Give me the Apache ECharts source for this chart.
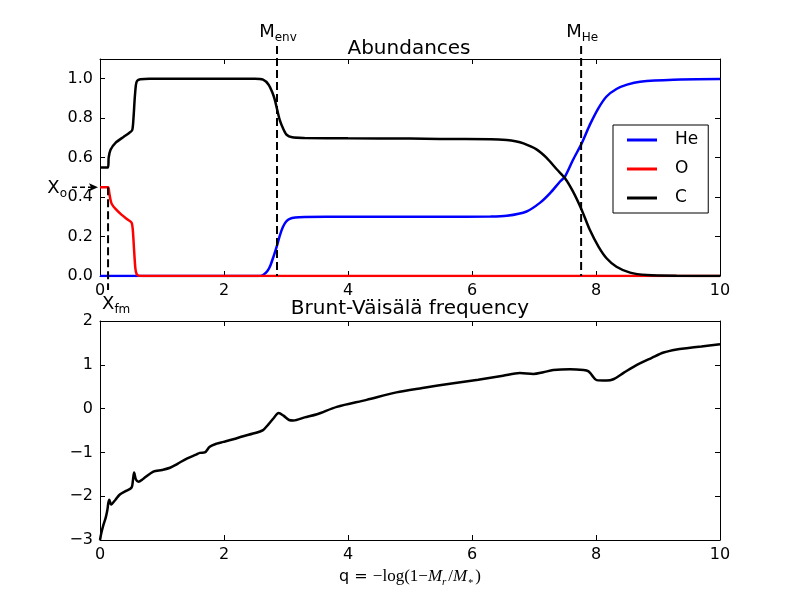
<!DOCTYPE html>
<html><head><meta charset="utf-8">
<script src="https://cdn.jsdelivr.net/npm/echarts@6/dist/echarts.min.js"></script>
<style>html,body{margin:0;padding:0;background:#fff}#c{width:800px;height:600px}</style>
</head><body><div id="c"></div>
<script>
// ---- data ----
const xTicks = [0, 2, 4, 6, 8, 10];
const topYTicks = [0, 0.2, 0.4, 0.6, 0.8, 1.0];
const botYTicks = [-3, -2, -1, 0, 1, 2];

const heX = [0, 2.55, 2.63, 2.7, 2.75, 2.8, 2.85, 2.9, 2.95, 3.0, 3.06, 3.15, 3.3, 4, 5, 5.48, 6.3, 6.56, 6.88, 7.1, 7.26, 7.42, 7.5, 7.63, 7.77, 7.9, 8.04, 8.17, 8.33, 8.5, 8.71, 9.25, 10];
const heY = [0, 0, 0.005, 0.025, 0.055, 0.1, 0.149, 0.205, 0.248, 0.275, 0.29, 0.297, 0.299, 0.3, 0.3, 0.3, 0.301, 0.305, 0.327, 0.372, 0.42, 0.479, 0.504, 0.589, 0.673, 0.766, 0.851, 0.91, 0.948, 0.97, 0.985, 0.995, 0.998];

const oX = [0, 0.13, 0.15, 0.17, 0.19, 0.25, 0.35, 0.45, 0.51, 0.53, 0.55, 0.57, 0.59, 0.62, 0.7, 10];
const oY = [0.45, 0.45, 0.42, 0.385, 0.365, 0.34, 0.31, 0.285, 0.27, 0.23, 0.13, 0.04, 0.01, 0.002, 0, 0];

const cX = [0, 0.13, 0.14, 0.17, 0.25, 0.38, 0.47, 0.52, 0.54, 0.56, 0.58, 0.6, 0.65, 0.8, 2.5, 2.63, 2.72, 2.78, 2.82, 2.86, 2.9, 2.95, 3.01, 3.1, 3.3, 4, 5, 5.48, 6.3, 6.56, 6.7, 6.83, 7.04, 7.2, 7.37, 7.5, 7.63, 7.77, 7.9, 8.04, 8.17, 8.33, 8.55, 8.82, 9.3, 10];
const cY = [0.55, 0.55, 0.6, 0.64, 0.675, 0.705, 0.725, 0.74, 0.8, 0.9, 0.97, 0.99, 0.997, 1.0, 1.0, 0.995, 0.97, 0.93, 0.893, 0.84, 0.79, 0.75, 0.716, 0.703, 0.7, 0.698, 0.697, 0.695, 0.693, 0.689, 0.683, 0.672, 0.642, 0.6, 0.54, 0.496, 0.428, 0.335, 0.234, 0.149, 0.09, 0.047, 0.017, 0.005, 0.001, 0];

const bvX = [0, 0.02, 0.054, 0.09, 0.118, 0.135, 0.15, 0.18, 0.25, 0.32, 0.42, 0.51, 0.53, 0.55, 0.58, 0.62, 0.7, 0.86, 1.0, 1.13, 1.25, 1.4, 1.55, 1.61, 1.69, 1.77, 1.88, 1.99, 2.15, 2.31, 2.47, 2.63, 2.71, 2.8, 2.88, 2.96, 3.05, 3.12, 3.3, 3.5, 3.82, 4.3, 4.78, 5.2, 5.7, 6.1, 6.5, 6.77, 6.99, 7.15, 7.31, 7.58, 7.8, 7.88, 7.93, 8.01, 8.17, 8.28, 8.45, 8.66, 8.9, 9.09, 9.3, 9.46, 9.7, 10];
const bvY = [-3.0, -2.85, -2.66, -2.5, -2.32, -2.15, -2.08, -2.19, -2.08, -1.96, -1.88, -1.80, -1.65, -1.46, -1.62, -1.67, -1.6, -1.44, -1.4, -1.35, -1.26, -1.14, -1.05, -1.01, -1.0, -0.87, -0.8, -0.76, -0.7, -0.63, -0.57, -0.49, -0.37, -0.22, -0.1, -0.16, -0.26, -0.27, -0.2, -0.13, 0.04, 0.2, 0.37, 0.47, 0.58, 0.66, 0.75, 0.81, 0.79, 0.83, 0.88, 0.90, 0.88, 0.85, 0.77, 0.65, 0.64, 0.67, 0.82, 1.0, 1.16, 1.28, 1.35, 1.38, 1.42, 1.47];

// annotation positions (data units)
const markerMenv = 2.855;
const markerMHe = 7.76;
const markerXfm = 0.13;
const markerXo = 0.45;

// ---- chart ----
const FONT = 'DejaVu Sans';
const pairs = (xs, ys) => xs.map((x, i) => [x, ys[i]]);
const minus = v => String(v).replace('-', '\u2212');

function xAx(grid, pos, labels) {
  return {
    type: 'value', gridIndex: grid, position: pos, min: 0, max: 10, interval: 2,
    axisLine: { show: true, onZero: false, lineStyle: { color: '#000', width: 1 } },
    axisTick: { show: true, inside: true, length: 5, lineStyle: { color: '#000' }, customValues: xTicks },
    axisLabel: { show: labels, color: '#000', fontSize: 16, fontFamily: FONT, margin: 7, customValues: xTicks },
    splitLine: { show: false }
  };
}
function yAx(grid, pos, labels, min, max, ticks, fmt) {
  return {
    type: 'value', gridIndex: grid, position: pos, min: min, max: max,
    axisLine: { show: true, onZero: false, lineStyle: { color: '#000', width: 1 } },
    axisTick: { show: true, inside: true, length: 5, lineStyle: { color: '#000' }, customValues: ticks },
    axisLabel: { show: labels, color: '#000', fontSize: 16, fontFamily: FONT, margin: 7, customValues: ticks, formatter: fmt },
    splitLine: { show: false }
  };
}

const chart = echarts.init(document.getElementById('c'), null, { renderer: 'canvas' });
const xAxes = [xAx(0, 'bottom', true), xAx(0, 'top', false), xAx(1, 'bottom', true), xAx(1, 'top', false)];
xAxes[2].name = '{a|q = }{b|\u2212log(1\u2212}{c|M}{d|r}{b|/}{c|M}{e|*}{b|)}';
xAxes[2].nameLocation = 'middle';
xAxes[2].nameGap = 26;
xAxes[2].nameTextStyle = {
  color: '#000',
  rich: {
    a: { fontFamily: FONT, fontSize: 16, color: '#000', lineHeight: 22 },
    b: { fontFamily: 'Liberation Serif', fontSize: 17, color: '#000', lineHeight: 22 },
    c: { fontFamily: 'Liberation Serif', fontStyle: 'italic', fontSize: 17, color: '#000', lineHeight: 22 },
    d: { fontFamily: 'Liberation Serif', fontStyle: 'italic', fontSize: 11, color: '#000', lineHeight: 22, verticalAlign: 'bottom', padding: [0, 2, 0, 0] },
    e: { fontFamily: 'Liberation Serif', fontSize: 10, color: '#000', lineHeight: 22, verticalAlign: 'bottom', padding: [0, 2, 0, 1] }
  }
};

const option = {
  animation: false,
  backgroundColor: '#fff',
  title: [
    { text: 'Abundances', left: 404, textAlign: 'center', top: 34, textStyle: { fontFamily: FONT, fontSize: 20, fontWeight: 'normal', color: '#000' } },
    { text: 'Brunt-V\u00e4is\u00e4l\u00e4 frequency', left: 405, textAlign: 'center', top: 294, textStyle: { fontFamily: FONT, fontSize: 20, fontWeight: 'normal', color: '#000' } }
  ],
  grid: [
    { left: 100, top: 59, width: 620, height: 217 },
    { left: 100, top: 321, width: 620, height: 219 }
  ],
  xAxis: xAxes,
  yAxis: [
    yAx(0, 'left', true, 0, 1.1, topYTicks, v => v.toFixed(1)),
    yAx(0, 'right', false, 0, 1.1, topYTicks),
    yAx(1, 'left', true, -3, 2, botYTicks, v => minus(v)),
    yAx(1, 'right', false, -3, 2, botYTicks)
  ],
  legend: {
    data: ['He', 'O', 'C'], orient: 'vertical', left: 613, top: 125,
    icon: 'rect', itemWidth: 30, itemHeight: 3, itemGap: 11,
    padding: [6, 6, 6, 14],
    borderColor: '#000', borderWidth: 1, backgroundColor: '#fff', borderRadius: 0,
    textStyle: { fontFamily: FONT, fontSize: 17, color: '#000', lineHeight: 18, padding: [0, 4, 0, 13] }
  },
  series: [
    { name: 'He', type: 'line', xAxisIndex: 0, yAxisIndex: 0, data: pairs(heX, heY), showSymbol: false, symbol: 'none', smooth: 0.25, lineStyle: { color: '#0000ff', width: 2.5 }, itemStyle: { color: '#0000ff' } },
    { name: 'O', type: 'line', xAxisIndex: 0, yAxisIndex: 0, data: pairs(oX, oY), showSymbol: false, symbol: 'none', smooth: 0.25, lineStyle: { color: '#ff0000', width: 2.5 }, itemStyle: { color: '#ff0000' } },
    { name: 'C', type: 'line', xAxisIndex: 0, yAxisIndex: 0, data: pairs(cX, cY), showSymbol: false, symbol: 'none', smooth: 0.25, lineStyle: { color: '#000', width: 2.5 }, itemStyle: { color: '#000' } },
    { name: 'N2', type: 'line', xAxisIndex: 2, yAxisIndex: 2, data: pairs(bvX, bvY), showSymbol: false, symbol: 'none', smooth: 0.3, lineStyle: { color: '#000', width: 2.5 }, itemStyle: { color: '#000' } }
  ]
};
chart.setOption(option);

// annotations placed through the axis scales
const P = (x, y) => chart.convertToPixel({ xAxisIndex: 0, yAxisIndex: 0 }, [x, y]);
const dash = { stroke: '#000', lineWidth: 2, lineDash: [8, 4] };
const top11 = P(0, 1.1)[1];
const y0 = P(0, 0)[1];
const xEnv = P(markerMenv, 0)[0];
const xHe = P(markerMHe, 0)[0];
const xFm = P(markerXfm, 0)[0];
const pXo = P(0, markerXo);
const subRich = (main, sub) => ({
  text: '{m|' + main + '}{s|' + sub + '}',
  rich: {
    m: { fontFamily: FONT, fontSize: 18, fill: '#000', lineHeight: 24 },
    s: { fontFamily: FONT, fontSize: 12, fill: '#000', lineHeight: 24, verticalAlign: 'bottom' }
  }
});
chart.setOption({
  graphic: [
    { type: 'line', shape: { x1: xEnv, y1: top11 - 13, x2: xEnv, y2: y0 }, style: dash, z: 10 },
    { type: 'line', shape: { x1: xHe, y1: top11 - 13, x2: xHe, y2: y0 }, style: dash, z: 10 },
    { type: 'line', shape: { x1: xFm, y1: pXo[1], x2: xFm, y2: y0 + 14 }, style: dash, z: 10 },
    { type: 'line', shape: { x1: pXo[0] - 28, y1: pXo[1], x2: pXo[0] - 8, y2: pXo[1] }, style: { stroke: '#000', lineWidth: 1.5, lineDash: [5, 3] }, z: 10 },
    { type: 'polygon', shape: { points: [[pXo[0] - 2, pXo[1]], [pXo[0] - 11, pXo[1] - 4], [pXo[0] - 9, pXo[1]], [pXo[0] - 11, pXo[1] + 4]] }, style: { fill: '#000' }, z: 10 },
    { type: 'text', x: xEnv + 1, y: top11 - 27, style: Object.assign(subRich('M', 'env'), { align: 'center', verticalAlign: 'middle' }), z: 10 },
    { type: 'text', x: xHe + 1, y: top11 - 27, style: Object.assign(subRich('M', 'He'), { align: 'center', verticalAlign: 'middle' }), z: 10 },
    { type: 'text', x: pXo[0] - 33, y: pXo[1] + 1, style: Object.assign(subRich('X', 'o'), { align: 'right', verticalAlign: 'middle' }), z: 10 },
    { type: 'text', x: xFm - 6, y: y0 + 28, style: Object.assign(subRich('X', 'fm'), { align: 'left', verticalAlign: 'middle' }), z: 10 }
  ]
});
</script>
</body></html>
